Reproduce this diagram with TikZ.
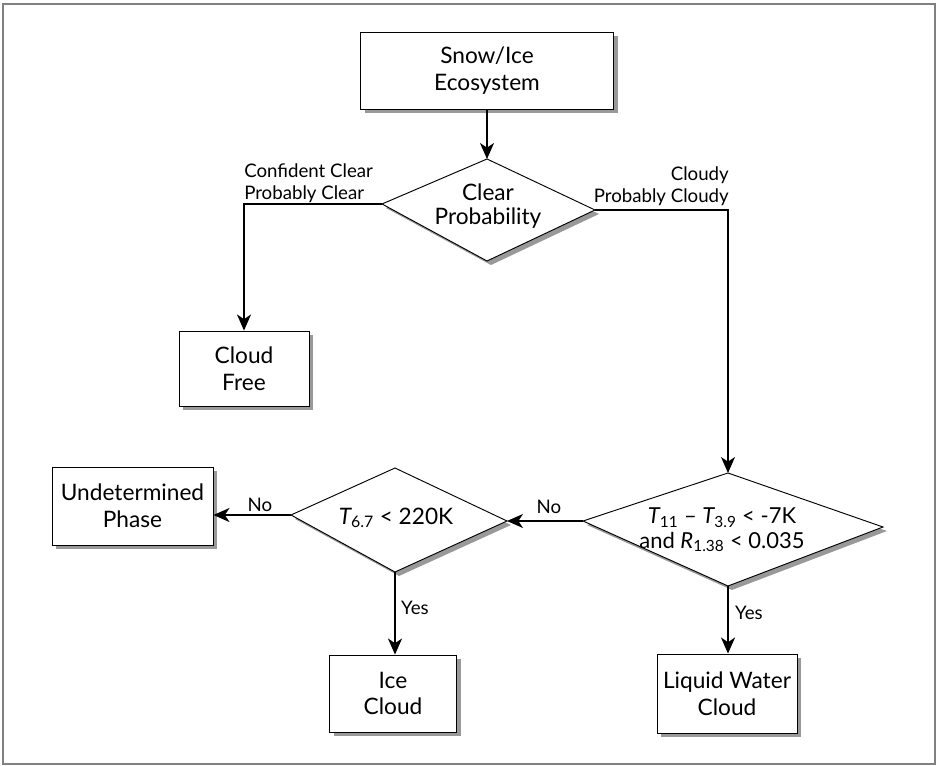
\documentclass[tikz,border=0pt]{standalone}
\usepackage{fontspec}
\setmainfont{Lato}
\usetikzlibrary{shadows,arrows.meta}
\begin{document}
\begin{tikzpicture}[x=0.75pt,y=-0.75pt,
  shad/.style={drop shadow={shadow xshift=3pt, shadow yshift=-3pt, fill=black!40, opacity=1}},
  box/.style={shad, draw=black, line width=0.7pt, fill=white, align=center, inner sep=0pt,
    font=\fontsize{17}{20}\selectfont},
  dia/.style={shad, draw=black, line width=0.7pt, fill=white},
  dtext/.style={align=center, inner sep=0pt, font=\fontsize{17}{17.5}\selectfont},
  lab/.style={inner sep=0pt, font=\fontsize{14}{16.5}\selectfont},
  conn/.style={line width=1.5pt, -{Stealth[length=12pt, width=10.5pt, inset=3.5pt]}},
  frame/.style={draw=black!50, line width=1.8pt}
]
\useasboundingbox (0,0) rectangle (938,766);
\draw[frame] (3,4) rectangle (935,764);

% boxes
\node[box, minimum width=253*0.75pt, minimum height=77*0.75pt] (snow) at (487,70.5) {Snow/Ice\\Ecosystem};
\node[box, minimum width=130*0.75pt, minimum height=75*0.75pt] (free) at (244,368.5) {Cloud\\Free};
\node[box, minimum width=161*0.75pt, minimum height=78*0.75pt] (und) at (132.5,506) {Undetermined\\Phase};
\node[box, minimum width=127*0.75pt, minimum height=77*0.75pt] (ice) at (393,693.5) {Ice\\Cloud};
\node[box, minimum width=140*0.75pt, minimum height=79*0.75pt] (liq) at (727,693.5) {Liquid Water\\Cloud};

% diamond 1: Clear Probability
\coordinate (cpT) at (487,159);
\coordinate (cpR) at (595,210);
\coordinate (cpB) at (487,261);
\coordinate (cpL) at (382,204);
\draw[dia] (cpT) -- (cpR) -- (cpB) -- (cpL) -- cycle;
\node[dtext] (cp) at (488,206) {Clear\\Probability};

% diamond 2: big test
\coordinate (bdT) at (728,473);
\coordinate (bdR) at (883,527);
\coordinate (bdB) at (728,586);
\coordinate (bdL) at (583,521);
\draw[dia] (bdT) -- (bdR) -- (bdB) -- (bdL) -- cycle;
\node[dtext, font=\fontsize{16.5}{18.5}\selectfont] (bd) at (722,530)
  {{\itshape T}\textsubscript{11} – {\itshape T}\textsubscript{3.9} < -7K\\and {\itshape R}\textsubscript{1.38} < 0.035};

% diamond 3: small test
\coordinate (sdT) at (395,468);
\coordinate (sdR) at (507,521);
\coordinate (sdB) at (395,572);
\coordinate (sdL) at (291,515);
\draw[dia] (sdT) -- (sdR) -- (sdB) -- (sdL) -- cycle;
\node[dtext] (sd) at (396,518) {{\itshape T}\textsubscript{6.7} < 220K};

% connectors
\draw[conn] (snow.south -| cpT) -- (cpT);
\draw[conn] (cpL) -- (cpL -| free.north) -- (free.north);
\draw[conn] (cpR) -- (cpR -| bdT) -- (bdT);
\draw[conn] (bdL) -- (sdR);
\draw[conn] (sdL) -- (sdL -| und.east);
\draw[conn] (sdB) -- (sdB |- ice.north);
\draw[conn] (bdB) -- (bdB |- liq.north);

% labels
\node[lab, anchor=south west, align=left] (lclear) at (244,203) {Confident Clear\\Probably Clear};
\node[lab, anchor=south east, align=right] (lcloudy) at (729,206) {Cloudy\\Probably Cloudy};
\node[lab] (lno1) at (549,507) {No};
\node[lab] (lno2) at (260,505) {No};
\node[lab] (lyes1) at (415,608) {Yes};
\node[lab] (lyes2) at (749,613) {Yes};
\end{tikzpicture}
\end{document}
